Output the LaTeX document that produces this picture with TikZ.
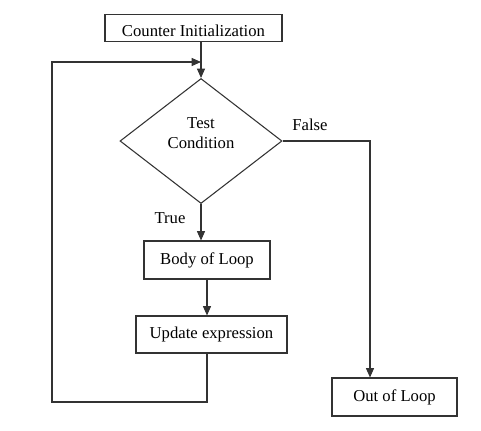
\documentclass[tikz,border=0pt]{standalone}
\usepackage{fontspec}
\setmainfont{Liberation Serif}
\usetikzlibrary{shapes.geometric,arrows.meta}

\begin{document}
\begin{tikzpicture}[x=0.75pt,y=-0.75pt,
  line/.style={draw=black!80,line width=0.8pt},
  arr/.style={line,-{Triangle[length=7pt,width=6pt]}},
  box/.style={line,rectangle,inner sep=0pt,font=\fontsize{12.5}{14}\selectfont},
  cond/.style={line,diamond,inner sep=0pt,minimum width=121.5pt,minimum height=93.75pt},
  tag/.style={font=\fontsize{12.5}{14}\selectfont}]
\useasboundingbox (0,0) rectangle (481,430);
% boxes
\node[box,minimum width=132.75pt,minimum height=20.25pt,text height=12.75pt,text depth=0pt] (init) at (193.5,28) {Counter Initialization};
\node[cond,label={[tag,align=center,yshift=6pt]center:Test\\[1.5pt]Condition}] (test) at (201,141) {};
\node[box,minimum width=94.5pt,minimum height=28.5pt] (body) at (207,260) {Body of Loop};
\node[box,minimum width=113.25pt,minimum height=27.75pt] (upd) at (211.5,334.5) {Update expression};
\node[box,minimum width=93.75pt,minimum height=28.5pt] (out) at (394.5,397) {Out of Loop};
% labels
\node[tag] (ltrue) at (170,218) {True};
\node[tag] (lfalse) at (310,125) {False};
% corners
\coordinate (fc) at (370,141);
\coordinate (lb) at (52,402);
\coordinate (lt) at (52,62);
% connectors
\draw[arr] (test.north |- init.south) -- (test.north);
\draw[arr] (test.south) -- (test.south |- body.north);
\draw[arr] (body.south) -- (body.south |- upd.north);
\draw[arr] (test.east) -- (fc) -- (fc |- out.north);
\draw[arr] (body.south |- upd.south) -- (body.south |- lb) -- (lb) -- (lt) -- (test.north |- lt);
\end{tikzpicture}
\end{document}
